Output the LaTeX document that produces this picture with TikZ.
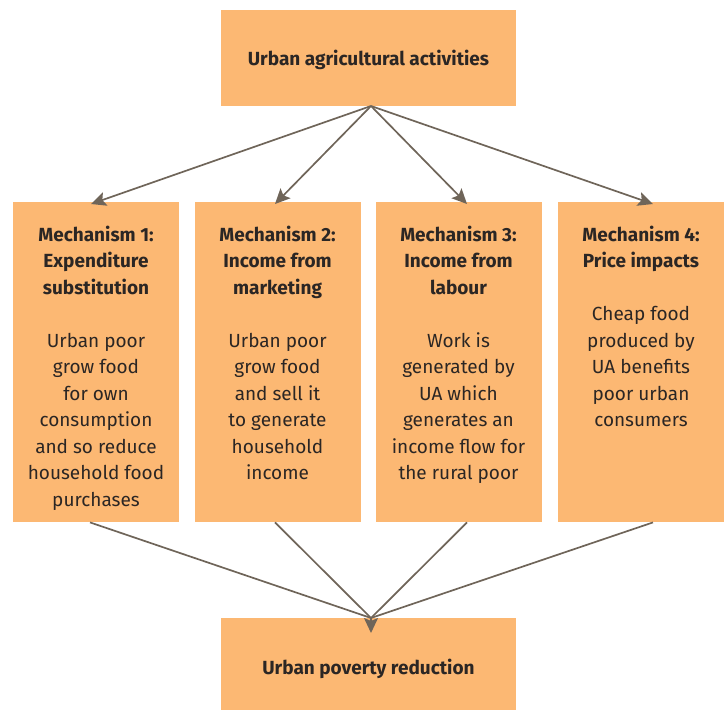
\documentclass[tikz,border=0pt]{standalone}
\usepackage{fontspec}
\setmainfont{Fira Sans}
\usetikzlibrary{arrows.meta}

\definecolor{boxorange}{HTML}{FCB873}
\definecolor{arrowgrey}{HTML}{6F6559}
\definecolor{inkdark}{HTML}{2B2624}

\newcommand{\mechtext}[2]{%
  \parbox[t][294pt][t]{162pt}{\vspace*{10.5pt}\centering\fontsize{19}{26.5}\selectfont
    \textbf{#1}\par\vspace{26.5pt}#2}}

\tikzset{
  box/.style={rectangle, fill=boxorange, text=inkdark, inner sep=0pt},
  mainbox/.style={box, minimum width=295pt, minimum height=96pt, text depth=0pt,
    font=\fontsize{19}{23}\selectfont\bfseries},
  mechbox/.style={box, anchor=north, minimum width=166pt, minimum height=320pt,
    inner ysep=13pt},
  link/.style={draw=arrowgrey, line width=1.7pt},
  arr/.style={link, -{Stealth[length=15pt, width=14pt, inset=3pt]}}
}

\begin{document}
\begin{tikzpicture}[x=1pt, y=-1pt]
  \useasboundingbox (0,0) rectangle (725,709);
  \clip (0,0) rectangle (725,709);

  % top and bottom boxes
  \node[mainbox] (ua) at (368.5,58) {Urban agricultural activities};
  \node[mainbox, minimum height=98pt] (pr) at (368.5,667) {Urban poverty reduction};

  % the four mechanisms
  \node[mechbox] (m1) at (96,202) {\mechtext{Mechanism 1:\\Expenditure\\substitution}
    {Urban poor\\grow food\\for own\\consumption\\and so reduce\\household food\\purchases}};
  \node[mechbox] (m2) at (277.5,202) {\mechtext{Mechanism 2:\\Income from\\marketing}
    {Urban poor\\grow food\\and sell it\\to generate\\household\\income}};
  \node[mechbox] (m3) at (458.5,202) {\mechtext{Mechanism 3:\\Income from\\labour}
    {Work is\\generated by\\UA which\\generates an\\income flow for\\the rural poor}};
  \node[mechbox] (m4) at (641,202) {\mechtext{Mechanism 4:\\Price impacts}
    {Cheap food\\produced by\\UA benefits\\poor urban\\consumers}};

  % meeting points of the connectors
  \coordinate (top) at (371,106);
  \coordinate (join) at (371,618);

  % arrows down to the mechanisms
  \draw[arr] (top) -- ([yshift=-2pt]m1.north -| 91,0);
  \draw[arr] (top) -- ([yshift=-2pt]m2.north -| 275,0);
  \draw[arr] (top) -- ([yshift=-2pt]m3.north -| 467,0);
  \draw[arr] (top) -- ([yshift=-2pt]m4.north -| 653,0);

  % lines down to poverty reduction
  \draw[link] (m1.south -| 90,0) -- (join);
  \draw[link] (m2.south -| 275,0) -- (join);
  \draw[link] (m3.south -| 467,0) -- (join);
  \draw[link] (m4.south -| 653,0) -- (join);
  \draw[arr] (join) -- ++(0,15);
\end{tikzpicture}
\end{document}
